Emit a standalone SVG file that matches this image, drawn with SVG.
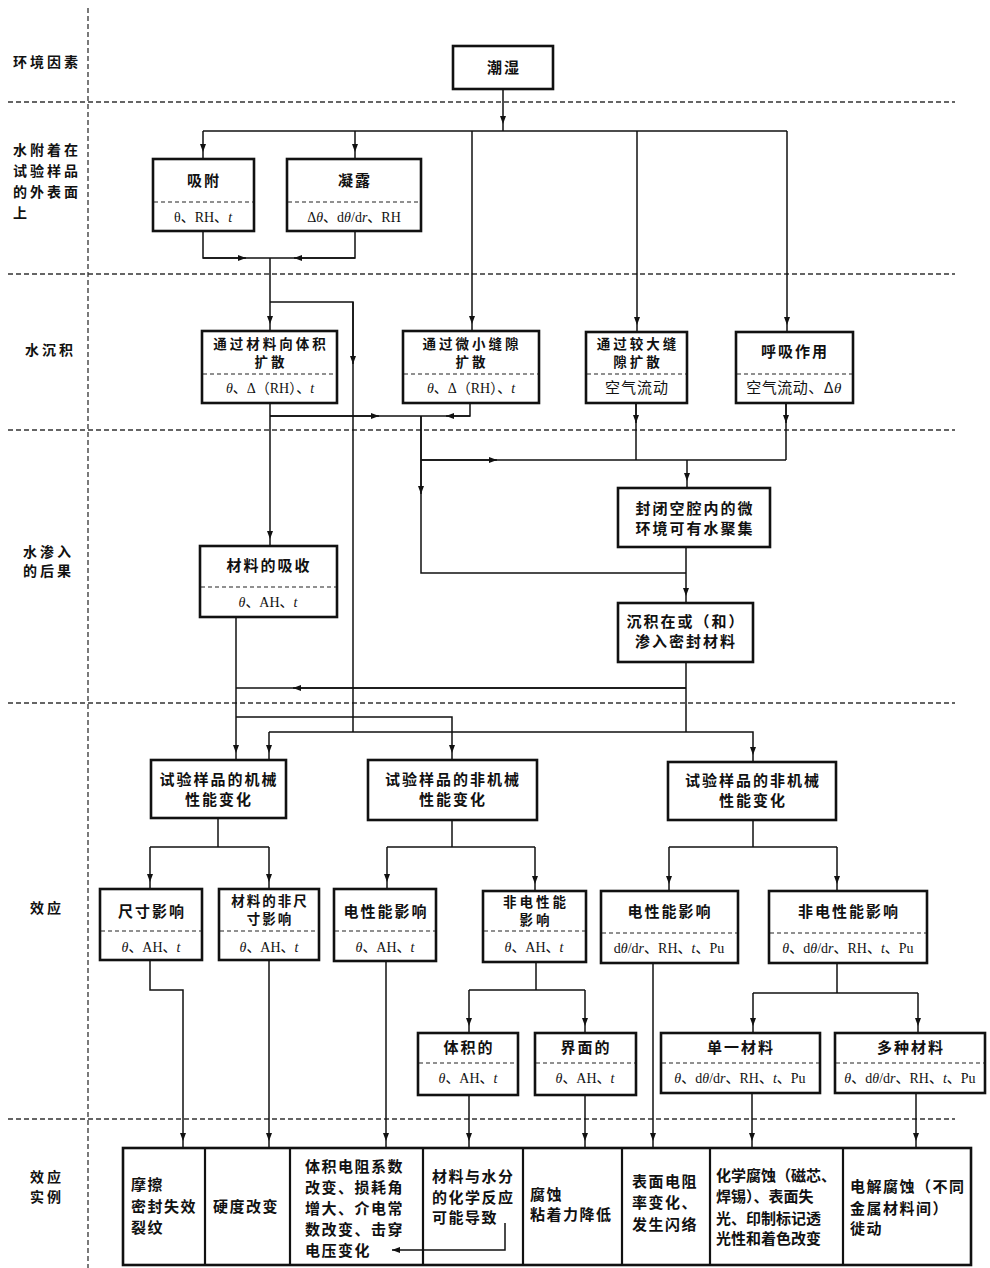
<svg xmlns="http://www.w3.org/2000/svg" width="990" height="1268" viewBox="0 0 990 1268">
<style>
.bg{fill:#fff}
.grid{stroke:#333;stroke-width:1.3;stroke-dasharray:5 3;fill:none}
.box{fill:#fff;stroke:#111;stroke-width:2.6}
.div{stroke:#222;stroke-width:1.1;stroke-dasharray:4 3}
.ln{fill:none;stroke:#111;stroke-width:1.5}
.lbl{font-family:"Noto Sans CJK SC","Liberation Sans",sans-serif;font-size:14px;font-weight:bold;letter-spacing:3px;fill:#111}
.t{font-family:"Noto Sans CJK SC","Liberation Sans",sans-serif;font-size:15px;font-weight:bold;letter-spacing:2px;fill:#111;text-anchor:middle}
.ts{font-family:"Noto Sans CJK SC","Liberation Sans",sans-serif;font-size:13.5px;font-weight:bold;letter-spacing:3px;fill:#111;text-anchor:middle}
.p{font-family:"Liberation Serif","Noto Sans CJK SC",serif;font-size:14px;fill:#111;text-anchor:middle}
.e{font-family:"Noto Sans CJK SC","Liberation Sans",sans-serif;font-size:15px;font-weight:bold;letter-spacing:1.5px;fill:#111}
</style>
<defs>
<marker id="gap" viewBox="0 0 16 6" refX="15" refY="3" markerWidth="16" markerHeight="6" markerUnits="userSpaceOnUse" orient="auto"><path d="M0,0 L8,3 L0,6 z" fill="#111"/></marker>
<marker id="tip" viewBox="0 0 8 6" refX="8" refY="3" markerWidth="8" markerHeight="6" markerUnits="userSpaceOnUse" orient="auto"><path d="M0,0 L8,3 L0,6 z" fill="#111"/></marker>
</defs>
<rect class="bg" x="0" y="0" width="990" height="1268"/>

<g id="grid">
<line class="grid" x1="88" y1="8" x2="88" y2="1268"/>
<line class="grid" x1="8" y1="102" x2="955" y2="102"/>
<line class="grid" x1="8" y1="274" x2="955" y2="274"/>
<line class="grid" x1="8" y1="430" x2="955" y2="430"/>
<line class="grid" x1="8" y1="703" x2="955" y2="703"/>
<line class="grid" x1="8" y1="1119" x2="955" y2="1119"/>
</g>

<g id="labels">
<text class="lbl" x="13" y="67">环境因素</text>
<text class="lbl" x="13" y="155">水附着在<tspan x="13" dy="21">试验样品</tspan><tspan x="13" dy="21">的外表面</tspan><tspan x="13" dy="21">上</tspan></text>
<text class="lbl" x="25" y="355">水沉积</text>
<text class="lbl" x="23" y="557">水渗入<tspan x="23" dy="19">的后果</tspan></text>
<text class="lbl" x="30" y="913">效应</text>
<text class="lbl" x="30" y="1182">效应<tspan x="30" dy="20">实例</tspan></text>
</g>

<g id="connectors">
<path class="ln" d="M503,89 V131" marker-end="url(#gap)"/>
<path class="ln" d="M203,131 H787"/>
<path class="ln" d="M203,131 V159" marker-end="url(#gap)"/>
<path class="ln" d="M355,131 V159" marker-end="url(#gap)"/>
<path class="ln" d="M472,131 V331" marker-end="url(#gap)"/>
<path class="ln" d="M637,131 V332" marker-end="url(#gap)"/>
<path class="ln" d="M787,131 V332" marker-end="url(#gap)"/>
<path class="ln" d="M203,231 V258 H355 V231"/>
<path class="ln" d="M203,258 H246" marker-end="url(#tip)"/>
<path class="ln" d="M355,258 H294" marker-end="url(#tip)"/>
<path class="ln" d="M270,258 V331" marker-end="url(#gap)"/>
<path class="ln" d="M270,302 H353 V732"/>
<path class="ln" d="M353,302 V364" marker-end="url(#tip)"/>
<path class="ln" d="M270,403 V546" marker-end="url(#gap)"/>
<path class="ln" d="M270,416 H470 V403"/>
<path class="ln" d="M270,416 H379" marker-end="url(#tip)"/>
<path class="ln" d="M470,416 H446" marker-end="url(#tip)"/>
<path class="ln" d="M421,416 V573 H686"/>
<path class="ln" d="M421,416 V494" marker-end="url(#tip)"/>
<path class="ln" d="M636,403 V460"/>
<path class="ln" d="M786,403 V460"/>
<path class="ln" d="M421,460 H786"/>
<path class="ln" d="M636,403 V423" marker-end="url(#tip)"/>
<path class="ln" d="M786,403 V423" marker-end="url(#tip)"/>
<path class="ln" d="M421,460 H497" marker-end="url(#tip)"/>
<path class="ln" d="M687,460 V488" marker-end="url(#gap)"/>
<path class="ln" d="M686,547 V603" marker-end="url(#gap)"/>
<path class="ln" d="M686,662 V732"/>
<path class="ln" d="M236,688 H686"/>
<path class="ln" d="M686,688 H293" marker-end="url(#tip)"/>
<path class="ln" d="M236,617 V760" marker-end="url(#gap)"/>
<path class="ln" d="M236,717 H452 V760" marker-end="url(#gap)"/>
<path class="ln" d="M269,732 H753 V762" marker-end="url(#gap)"/>
<path class="ln" d="M269,732 V760" marker-end="url(#gap)"/>
<path class="ln" d="M218,818 V847"/>
<path class="ln" d="M150,847 H269"/>
<path class="ln" d="M150,847 V889" marker-end="url(#gap)"/>
<path class="ln" d="M269,847 V889" marker-end="url(#gap)"/>
<path class="ln" d="M452,820 V847"/>
<path class="ln" d="M387,847 H535"/>
<path class="ln" d="M387,847 V889" marker-end="url(#gap)"/>
<path class="ln" d="M535,847 V891" marker-end="url(#gap)"/>
<path class="ln" d="M753,820 V847"/>
<path class="ln" d="M669,847 H837"/>
<path class="ln" d="M669,847 V891" marker-end="url(#gap)"/>
<path class="ln" d="M837,847 V891" marker-end="url(#gap)"/>
<path class="ln" d="M150,960 V990 H183 V1148" marker-end="url(#gap)"/>
<path class="ln" d="M269,960 V1148" marker-end="url(#gap)"/>
<path class="ln" d="M386,962 V1148" marker-end="url(#gap)"/>
<path class="ln" d="M536,962 V990"/>
<path class="ln" d="M469,990 H585"/>
<path class="ln" d="M469,990 V1033" marker-end="url(#gap)"/>
<path class="ln" d="M585,990 V1033" marker-end="url(#gap)"/>
<path class="ln" d="M653,963 V1148" marker-end="url(#gap)"/>
<path class="ln" d="M837,963 V993"/>
<path class="ln" d="M753,993 H918"/>
<path class="ln" d="M753,993 V1033" marker-end="url(#gap)"/>
<path class="ln" d="M918,993 V1033" marker-end="url(#gap)"/>
<path class="ln" d="M469,1095 V1148" marker-end="url(#gap)"/>
<path class="ln" d="M585,1095 V1148" marker-end="url(#gap)"/>
<path class="ln" d="M752,1093 V1148" marker-end="url(#gap)"/>
<path class="ln" d="M916,1093 V1148" marker-end="url(#gap)"/>
</g>

<g id="n_chaoshi">
<rect class="box" x="453" y="46" width="100" height="43"/>
<text class="t" x="504" y="73">潮湿</text>
</g>

<g id="n_xifu">
<rect class="box" x="153" y="159" width="101" height="72"/>
<line class="div" x1="154" y1="202" x2="253" y2="202"/>
<text class="t" x="204" y="186">吸附</text>
<text class="p" x="203" y="222">θ、RH、<tspan font-style="italic">t</tspan></text>
</g>

<g id="n_ninglu">
<rect class="box" x="287" y="159" width="134" height="72"/>
<line class="div" x1="288" y1="202" x2="420" y2="202"/>
<text class="t" x="355" y="186">凝露</text>
<text class="p" x="354" y="222">Δ<tspan font-style="italic">θ</tspan>、d<tspan font-style="italic">θ</tspan>/d<tspan font-style="italic">r</tspan>、RH</text>
</g>

<g id="n_tiji">
<rect class="box" x="202" y="331" width="135" height="72"/>
<line class="div" x1="203" y1="374" x2="336" y2="374"/>
<text class="ts" x="271" y="349">通过材料向体积<tspan x="271" dy="17.5">扩散</tspan></text>
<text class="p" x="270" y="393"><tspan font-style="italic">θ</tspan>、Δ（RH）、<tspan font-style="italic">t</tspan></text>
</g>

<g id="n_weixiao">
<rect class="box" x="403" y="331" width="136" height="72"/>
<line class="div" x1="404" y1="374" x2="538" y2="374"/>
<text class="ts" x="472" y="349">通过微小缝隙<tspan x="472" dy="17.5">扩散</tspan></text>
<text class="p" x="471" y="393"><tspan font-style="italic">θ</tspan>、Δ（RH）、<tspan font-style="italic">t</tspan></text>
</g>

<g id="n_jiaoda">
<rect class="box" x="586" y="332" width="101" height="71"/>
<line class="div" x1="587" y1="374" x2="686" y2="374"/>
<text class="ts" x="638" y="349">通过较大缝<tspan x="638" dy="17.5">隙扩散</tspan></text>
<text class="t" x="637" y="393" style="font-weight:normal;letter-spacing:1px">空气流动</text>
</g>

<g id="n_huxi">
<rect class="box" x="736" y="332" width="117" height="71"/>
<line class="div" x1="737" y1="374" x2="852" y2="374"/>
<text class="t" x="795" y="357">呼吸作用</text>
<text class="t" x="794" y="393" style="font-weight:normal;letter-spacing:0.5px">空气流动、Δ<tspan font-family="Liberation Serif" font-style="italic">θ</tspan></text>
</g>

<g id="n_fengbi">
<rect class="box" x="618" y="488" width="152" height="59"/>
<text class="t" x="695" y="514">封闭空腔内的微<tspan x="695" dy="19.5">环境可有水聚集</tspan></text>
</g>

<g id="n_xishou">
<rect class="box" x="200" y="546" width="137" height="71"/>
<line class="div" x1="201" y1="587" x2="336" y2="587"/>
<text class="t" x="269" y="571">材料的吸收</text>
<text class="p" x="268" y="607"><tspan font-style="italic">θ</tspan>、AH、<tspan font-style="italic">t</tspan></text>
</g>

<g id="n_chenji">
<rect class="box" x="618" y="603" width="135" height="59"/>
<text class="t" x="686" y="627">沉积在或（和）<tspan x="686" dy="19.5">渗入密封材料</tspan></text>
</g>

<g id="n_jixie">
<rect class="box" x="151" y="760" width="135" height="58"/>
<text class="t" x="219" y="785">试验样品的机械<tspan x="219" dy="19.5">性能变化</tspan></text>
</g>

<g id="n_feijixie1">
<rect class="box" x="368" y="760" width="169" height="60"/>
<text class="t" x="453" y="785">试验样品的非机械<tspan x="453" dy="19.5">性能变化</tspan></text>
</g>

<g id="n_feijixie2">
<rect class="box" x="668" y="762" width="168" height="58"/>
<text class="t" x="753" y="786">试验样品的非机械<tspan x="753" dy="19.5">性能变化</tspan></text>
</g>

<g id="n_chicun">
<rect class="box" x="100" y="889" width="102" height="71"/>
<line class="div" x1="101" y1="931" x2="201" y2="931"/>
<text class="t" x="152" y="917">尺寸影响</text>
<text class="p" x="151" y="952"><tspan font-style="italic">θ</tspan>、AH、<tspan font-style="italic">t</tspan></text>
</g>

<g id="n_feichicun">
<rect class="box" x="219" y="889" width="100" height="71"/>
<line class="div" x1="220" y1="931" x2="318" y2="931"/>
<text class="ts" x="270" y="906" style="letter-spacing:2px">材料的非尺<tspan x="270" dy="18">寸影响</tspan></text>
<text class="p" x="269" y="952"><tspan font-style="italic">θ</tspan>、AH、<tspan font-style="italic">t</tspan></text>
</g>

<g id="n_dianxing1">
<rect class="box" x="334" y="889" width="102" height="72"/>
<line class="div" x1="335" y1="931" x2="435" y2="931"/>
<text class="t" x="386" y="917">电性能影响</text>
<text class="p" x="385" y="952"><tspan font-style="italic">θ</tspan>、AH、<tspan font-style="italic">t</tspan></text>
</g>

<g id="n_feidian1">
<rect class="box" x="483" y="891" width="103" height="71"/>
<line class="div" x1="484" y1="931" x2="585" y2="931"/>
<text class="ts" x="536" y="907">非电性能<tspan x="536" dy="17.5">影响</tspan></text>
<text class="p" x="534" y="952"><tspan font-style="italic">θ</tspan>、AH、<tspan font-style="italic">t</tspan></text>
</g>

<g id="n_dianxing2">
<rect class="box" x="601" y="891" width="137" height="72"/>
<line class="div" x1="602" y1="933" x2="737" y2="933"/>
<text class="t" x="670" y="917">电性能影响</text>
<text class="p" x="669" y="953">d<tspan font-style="italic">θ</tspan>/d<tspan font-style="italic">r</tspan>、RH、<tspan font-style="italic">t</tspan>、Pu</text>
</g>

<g id="n_feidian2">
<rect class="box" x="769" y="891" width="158" height="72"/>
<line class="div" x1="770" y1="933" x2="926" y2="933"/>
<text class="t" x="849" y="917">非电性能影响</text>
<text class="p" x="848" y="953"><tspan font-style="italic">θ</tspan>、d<tspan font-style="italic">θ</tspan>/d<tspan font-style="italic">r</tspan>、RH、<tspan font-style="italic">t</tspan>、Pu</text>
</g>

<g id="n_tiji2">
<rect class="box" x="418" y="1033" width="100" height="62"/>
<line class="div" x1="419" y1="1063" x2="517" y2="1063"/>
<text class="t" x="469" y="1053">体积的</text>
<text class="p" x="468" y="1083"><tspan font-style="italic">θ</tspan>、AH、<tspan font-style="italic">t</tspan></text>
</g>

<g id="n_jiemian">
<rect class="box" x="535" y="1033" width="101" height="62"/>
<line class="div" x1="536" y1="1063" x2="635" y2="1063"/>
<text class="t" x="586" y="1053">界面的</text>
<text class="p" x="585" y="1083"><tspan font-style="italic">θ</tspan>、AH、<tspan font-style="italic">t</tspan></text>
</g>

<g id="n_danyi">
<rect class="box" x="661" y="1033" width="159" height="60"/>
<line class="div" x1="662" y1="1063" x2="819" y2="1063"/>
<text class="t" x="741" y="1053">单一材料</text>
<text class="p" x="740" y="1083"><tspan font-style="italic">θ</tspan>、d<tspan font-style="italic">θ</tspan>/d<tspan font-style="italic">r</tspan>、RH、<tspan font-style="italic">t</tspan>、Pu</text>
</g>

<g id="n_duozhong">
<rect class="box" x="835" y="1033" width="150" height="60"/>
<line class="div" x1="836" y1="1063" x2="984" y2="1063"/>
<text class="t" x="911" y="1053">多种材料</text>
<text class="p" x="910" y="1083"><tspan font-style="italic">θ</tspan>、d<tspan font-style="italic">θ</tspan>/d<tspan font-style="italic">r</tspan>、RH、<tspan font-style="italic">t</tspan>、Pu</text>
</g>

<g id="examples">
<rect class="box" x="123" y="1148" width="848" height="117"/>
<line class="ln" style="stroke-width:2.2" x1="205" y1="1148" x2="205" y2="1265"/>
<line class="ln" style="stroke-width:2.2" x1="290" y1="1148" x2="290" y2="1265"/>
<line class="ln" style="stroke-width:2.2" x1="423" y1="1148" x2="423" y2="1265"/>
<line class="ln" style="stroke-width:2.2" x1="523" y1="1148" x2="523" y2="1265"/>
<line class="ln" style="stroke-width:2.2" x1="622" y1="1148" x2="622" y2="1265"/>
<line class="ln" style="stroke-width:2.2" x1="710" y1="1148" x2="710" y2="1265"/>
<line class="ln" style="stroke-width:2.2" x1="843" y1="1148" x2="843" y2="1265"/>
</g>

<g id="ex1">
<text class="e" x="131" y="1190">摩擦<tspan x="131" dy="22">密封失效</tspan><tspan x="131" dy="21">裂纹</tspan></text>
</g>
<g id="ex2">
<text class="e" x="213" y="1212">硬度改变</text>
</g>
<g id="ex3">
<text class="e" x="305" y="1172">体积电阻系数<tspan x="305" dy="21">改变、损耗角</tspan><tspan x="305" dy="21">增大、介电常</tspan><tspan x="305" dy="21">数改变、击穿</tspan><tspan x="305" dy="21">电压变化</tspan></text>
</g>
<g id="ex4">
<text class="e" x="432" y="1182">材料与水分<tspan x="432" dy="20.5">的化学反应</tspan><tspan x="432" dy="20.5">可能导致</tspan></text>
<path class="ln" d="M505,1223 V1250 H392" marker-end="url(#tip)"/>
</g>
<g id="ex5">
<text class="e" x="530" y="1200">腐蚀<tspan x="530" dy="20">粘着力降低</tspan></text>
</g>
<g id="ex6">
<text class="e" x="632" y="1187">表面电阻<tspan x="632" dy="21">率变化、</tspan><tspan x="632" dy="22">发生闪络</tspan></text>
</g>
<g id="ex7">
<text class="e" x="716" y="1181" style="letter-spacing:0">化学腐蚀（磁芯、<tspan x="716" dy="21">焊锡）、表面失</tspan><tspan x="716" dy="21.5">光、印制标记透</tspan><tspan x="716" dy="20.5">光性和着色改变</tspan></text>
</g>
<g id="ex8">
<text class="e" x="850" y="1192">电解腐蚀（不同<tspan x="850" dy="21.5">金属材料间）</tspan><tspan x="850" dy="20.5">徙动</tspan></text>
</g>
</svg>
